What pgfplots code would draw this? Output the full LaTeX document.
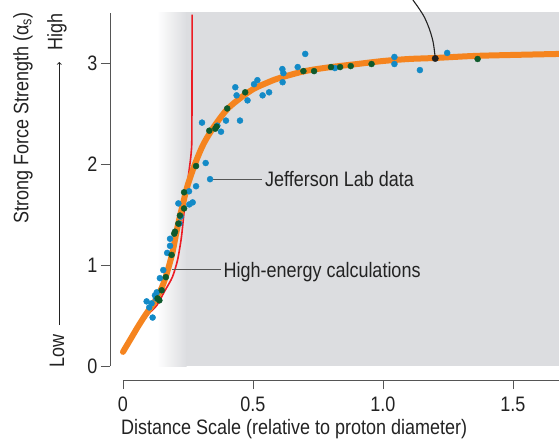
\documentclass[border=0pt]{standalone}
\usepackage{fontspec}
\setmainfont{Liberation Sans}[FakeStretch=0.86]
\usepackage{pgfplots}
\pgfplotsset{compat=1.18}
\definecolor{bggray}{HTML}{DCDDE0}
\definecolor{corange}{HTML}{F5841F}
\definecolor{cred}{HTML}{EC1C24}
\definecolor{cblue}{HTML}{138AC7}
\definecolor{cgreen}{HTML}{0E5A2C}
\definecolor{axgray}{HTML}{555555}
\definecolor{txt}{HTML}{222222}
\newcommand{\bigf}{\fontsize{21}{25}\selectfont}
\begin{document}
\begin{tikzpicture}
\begin{axis}[
  x=260bp, y=101bp,
  xmin=-0.05, xmax=1.677, ymin=-0.14, ymax=3.5,
  axis x line*=bottom, axis y line*=left,
  axis line style={axgray, line width=0.9bp},
  x axis line style={shorten <=13bp},
  y axis line style={shorten <=14bp},
  xtick={0,0.5,1,1.5}, xticklabels={0,0.5,1.0,1.5},
  ytick={0,1,2,3}, yticklabels={0,1,2,3},
  tick align=outside, major tick length=9bp,
  tick style={axgray, line width=0.9bp},
  tick label style={font=\bigf, text=txt},
  xticklabel style={yshift=-4bp},
  /pgf/number format/assume math mode=true,
  clip=false,
]
% background
\fill[left color=white, right color=bggray] (axis cs:0.13,0) rectangle (axis cs:0.245,3.505);
\fill[bggray] (axis cs:0.243,0) rectangle (axis cs:1.677,3.505);

% high-energy calculations (red)
\addplot[cred, line width=1.6bp, smooth, tension=0.4] coordinates {
(0.02,0.22) (0.06,0.38) (0.10,0.52) (0.13,0.60) (0.16,0.74) (0.19,0.88)
(0.21,1.05) (0.225,1.28) (0.238,1.60) (0.25,1.85) (0.262,2.10) (0.265,2.30) (0.266,3.48)};

% fit curve (orange)
\addplot[corange, line width=6bp, line cap=round, smooth, tension=0.5] coordinates {
(0.0,0.14) (0.03,0.27) (0.06,0.40) (0.09,0.52) (0.12,0.63) (0.15,0.78)
(0.17,0.93) (0.19,1.12) (0.21,1.38) (0.23,1.60) (0.25,1.80) (0.28,2.02)
(0.31,2.20) (0.35,2.37) (0.40,2.54) (0.45,2.65) (0.50,2.74) (0.55,2.80)
(0.60,2.85) (0.70,2.92) (0.80,2.96) (0.90,2.99) (1.0,3.02) (1.1,3.04)
(1.2,3.05) (1.35,3.07) (1.5,3.08) (1.677,3.09)};

% Jefferson Lab data (blue)
\addplot[cblue, only marks, mark=*, mark size=3bp, mark options={draw=none, fill=cblue}] table {
x y
0.335 1.85
0.281 1.78
0.254 1.73
0.268 1.62
0.255 1.60
0.213 1.61
0.222 1.48
0.217 1.41
0.181 1.26
0.181 1.19
0.170 1.12
0.155 0.95
0.142 0.87
0.130 0.73
0.123 0.70
0.091 0.64
0.110 0.62
0.101 0.58
0.114 0.48
0.127 0.67
0.613 2.94
0.617 2.90
0.517 2.83
0.504 2.79
0.432 2.76
0.437 2.68
0.479 2.63
0.537 2.68
0.562 2.71
0.396 2.43
0.450 2.43
0.304 2.41
0.363 2.38
0.377 2.32
0.318 2.01
0.614 2.81
0.701 3.09
0.672 2.96
0.815 2.95
1.044 3.06
1.044 2.99
1.142 2.93
1.247 3.10
};

% green data
\addplot[cgreen, only marks, mark=*, mark size=3bp, mark options={draw=none, fill=cgreen}] table {
x y
0.235 1.72
0.235 1.56
0.219 1.49
0.213 1.41
0.200 1.33
0.197 1.31
0.187 1.10
0.165 0.88
0.149 0.75
0.133 0.67
0.140 0.65
0.470 2.71
0.401 2.55
0.360 2.37
0.355 2.35
0.332 2.33
0.281 1.98
0.694 2.92
0.735 2.92
0.800 2.96
0.835 2.96
0.876 2.97
0.956 2.99
1.364 3.04
};

% highlighted point and leader
\addplot[txt, line width=1.1bp, smooth, tension=0.6] coordinates {
(1.201,3.045) (1.19,3.24) (1.16,3.45) (1.115,3.624)};
\addplot[txt, only marks, mark=*, mark size=3.2bp, mark options={draw=none, fill=txt}] coordinates {(1.201,3.045)};

% annotations
\draw[axgray, line width=1bp] (axis cs:0.347,1.851) -- (axis cs:0.535,1.851);
\node[anchor=base west, inner sep=0pt, font=\bigf, text=txt] at (axis cs:0.546,1.775) {Jefferson Lab data};
\draw[axgray, line width=1bp] (axis cs:0.19,0.955) -- (axis cs:0.377,0.955);
\node[anchor=base west, inner sep=0pt, font=\bigf, text=txt] at (axis cs:0.386,0.874) {High-energy calculations};

% axis labels
\node[rotate=90, inner sep=0pt, font=\bigf, text=txt] at (axis cs:-0.385,2.455) {Strong Force Strength (α\textsubscript{s})};
\node[rotate=90, inner sep=0pt, font=\bigf, text=txt] at (axis cs:-0.254,3.307) {High};
\node[rotate=90, inner sep=0pt, font=\bigf, text=txt] at (axis cs:-0.254,0.149) {Low};
\draw[txt, line width=0.9bp, ->] (axis cs:-0.245,0.406) -- (axis cs:-0.245,3.01);
\node[anchor=base, inner sep=0pt, font=\bigf, text=txt] at (axis cs:0.658,-0.673) {Distance Scale (relative to proton diameter)};

\coordinate (bl) at (axis cs:-0.473,-0.733);
\coordinate (tr) at (axis cs:1.677,3.624);
\end{axis}
\pgfresetboundingbox
\useasboundingbox (bl) rectangle (tr);
\end{tikzpicture}
\end{document}
